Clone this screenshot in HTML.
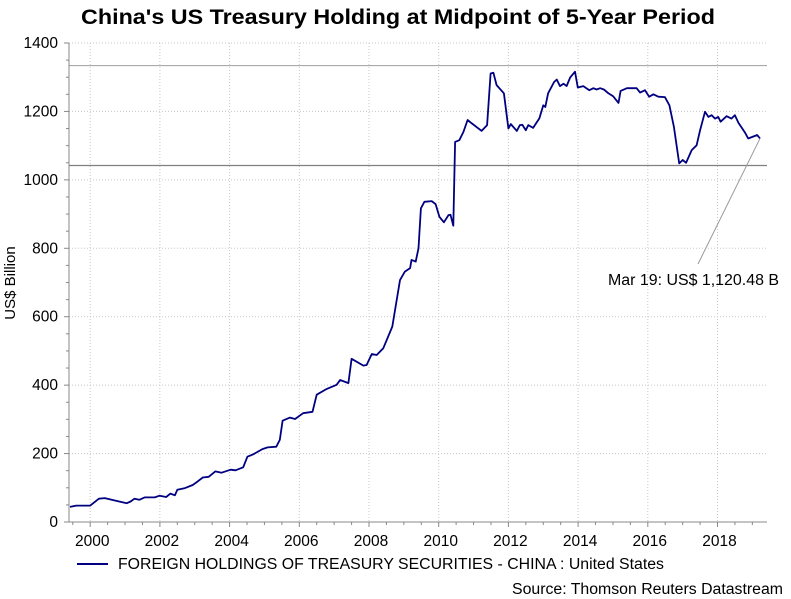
<!DOCTYPE html>
<html><head><meta charset="utf-8"><style>
html,body{margin:0;padding:0;background:#fff;}
svg{display:block;font-family:"Liberation Sans",Arial,sans-serif;}
</style></head><body>
<svg id="chart" width="791" height="599" viewBox="0 0 791 599" xmlns="http://www.w3.org/2000/svg">
<text x="81" y="24" textLength="634" lengthAdjust="spacingAndGlyphs" font-size="21" font-weight="bold" fill="#000">China's US Treasury Holding at Midpoint of 5-Year Period</text>
<text transform="translate(15,283) rotate(-90)" text-anchor="middle" font-size="15" fill="#000">US$ Billion</text>
<g id="grid"></g><g id="axes"></g><g id="series"></g>
<line x1="77" y1="564" x2="108" y2="564" stroke="#000080" stroke-width="2"/>
<text x="118" y="569" textLength="546" lengthAdjust="spacingAndGlyphs" font-size="15.5" fill="#000">FOREIGN HOLDINGS OF TREASURY SECURITIES - CHINA : United States</text>
<text x="512" y="594" textLength="271" lengthAdjust="spacingAndGlyphs" font-size="15.5" fill="#000">Source: Thomson Reuters Datastream</text>
</svg>
<script>
const yearsData=[1999.42,1999.6,2000.0,2000.25,2000.42,2000.83,2001.05,2001.16,2001.27,2001.41,2001.56,2001.85,2001.99,2002.18,2002.3,2002.43,2002.5,2002.72,2002.94,2003.08,2003.23,2003.4,2003.59,2003.77,2004.03,2004.17,2004.39,2004.51,2004.68,2004.94,2005.09,2005.34,2005.44,2005.52,2005.73,2005.88,2006.11,2006.38,2006.5,2006.79,2007.07,2007.17,2007.41,2007.5,2007.84,2007.93,2008.08,2008.22,2008.41,2008.67,2008.89,2009.03,2009.18,2009.22,2009.34,2009.42,2009.49,2009.59,2009.8,2009.91,2010.02,2010.15,2010.28,2010.34,2010.42,2010.47,2010.59,2010.71,2010.83,2010.95,2011.23,2011.39,2011.49,2011.57,2011.66,2011.87,2012.0,2012.07,2012.24,2012.33,2012.4,2012.5,2012.57,2012.71,2012.89,2013.0,2013.06,2013.14,2013.31,2013.39,2013.48,2013.58,2013.67,2013.77,2013.91,2013.99,2014.15,2014.32,2014.44,2014.53,2014.63,2014.74,2014.87,2015.01,2015.16,2015.22,2015.4,2015.68,2015.78,2015.92,2016.04,2016.16,2016.3,2016.49,2016.62,2016.75,2016.9,2017.0,2017.1,2017.26,2017.4,2017.5,2017.64,2017.74,2017.83,2017.93,2018.02,2018.09,2018.26,2018.4,2018.5,2018.6,2018.79,2018.88,2019.14,2019.22];
const holdings=[44,48,48,68,70,60,55,60,68,65,72,72,77,73,83,78,94,99,108,118,130,132,148,144,153,151,160,191,198,213,218,220,240,296,305,301,318,322,372,389,401,415,406,477,457,459,491,488,508,571,707,732,742,766,761,800,917,936,938,929,892,876,897,898,866,1111,1116,1140,1175,1165,1143,1160,1311,1313,1277,1253,1150,1163,1143,1160,1161,1145,1160,1152,1180,1218,1213,1253,1286,1293,1274,1281,1274,1299,1316,1270,1274,1262,1268,1264,1268,1264,1253,1244,1225,1260,1268,1268,1255,1262,1243,1250,1243,1242,1218,1155,1048,1058,1050,1087,1101,1145,1199,1184,1189,1179,1184,1170,1186,1179,1189,1167,1138,1121,1131,1121];
const yTicks=[0,200,400,600,800,1000,1200,1400];
const xTicks=[2000,2002,2004,2006,2008,2010,2012,2014,2016,2018];
const refLevels=[1334,1042];
const lastLabel="Mar 19: US$ 1,120.48 B";

const NS="http://www.w3.org/2000/svg";
const L=69,R=767,T=43,B=522;
const X0=2000,XPX=90.2,YR=34.85;
const xs=v=>XPX+(v-X0)*YR;
const ys=v=>B-v*(B-T)/1400;
function mk(tag,attrs,parent){const e=document.createElementNS(NS,tag);for(const k in attrs)e.setAttribute(k,attrs[k]);parent.appendChild(e);return e;}
const grid=document.getElementById('grid'),axes=document.getElementById('axes'),ser=document.getElementById('series');
yTicks.forEach(v=>{
  if(v>0){const g=mk('line',{x1:L,x2:R,y1:ys(v),y2:ys(v),stroke:'#c8c8c8','stroke-dasharray':'1,2'},grid);
  
  }
  const t=mk('text',{x:58,y:ys(v)+5,'text-anchor':'end','font-size':15.5,fill:'#000'},axes);t.textContent=v;
  
  
});
for(let v=0;v<=1400;v+=50){const tk=mk('line',{x1:L-(v%200?3:5),x2:L,y1:ys(v),y2:ys(v),stroke:'#888'},axes);
  
  }
xTicks.forEach(v=>{
  const g=mk('line',{x1:xs(v),x2:xs(v),y1:T,y2:B,stroke:'#c8c8c8','stroke-dasharray':'1,2'},grid);
  
  
  const t=mk('text',{x:xs(v)+2,y:546,'text-anchor':'middle','font-size':15.5,fill:'#000'},axes);t.textContent=v;
  
  
});
for(let v=1999.5;v<=2019.3;v+=0.5){const tk=mk('line',{x1:xs(v),x2:xs(v),y1:B,y2:B+(Math.abs(v%2)<0.01?5:3),stroke:'#888'},axes);
  
  }
const ya=mk('line',{x1:L,x2:L,y1:T,y2:B,stroke:'#888'},axes);


const xa=mk('line',{x1:L,x2:R,y1:B,y2:B,stroke:'#888'},axes);


refLevels.forEach((v,i)=>{const r=mk('line',{x1:L,x2:R,y1:ys(v),y2:ys(v),stroke:i?'#808080':'#aaa','stroke-width':1.2},grid);
  
  });
const pts=yearsData.map((y,i)=>xs(y).toFixed(1)+','+ys(holdings[i]).toFixed(1)).join(' ');
const line=mk('polyline',{points:pts,fill:'none',stroke:'#000080','stroke-width':1.8,'stroke-linejoin':'round'},ser);


const n=yearsData.length-1;
const lx=xs(yearsData[n]),ly=ys(holdings[n]);
const al=mk('line',{x1:lx,y1:ly,x2:698,y2:264,stroke:'#999'},ser);


const at=mk('text',{x:608,y:285,'font-size':15.5,textLength:171,lengthAdjust:'spacingAndGlyphs',fill:'#000'},ser);at.textContent=lastLabel;


</script>
</body></html>
